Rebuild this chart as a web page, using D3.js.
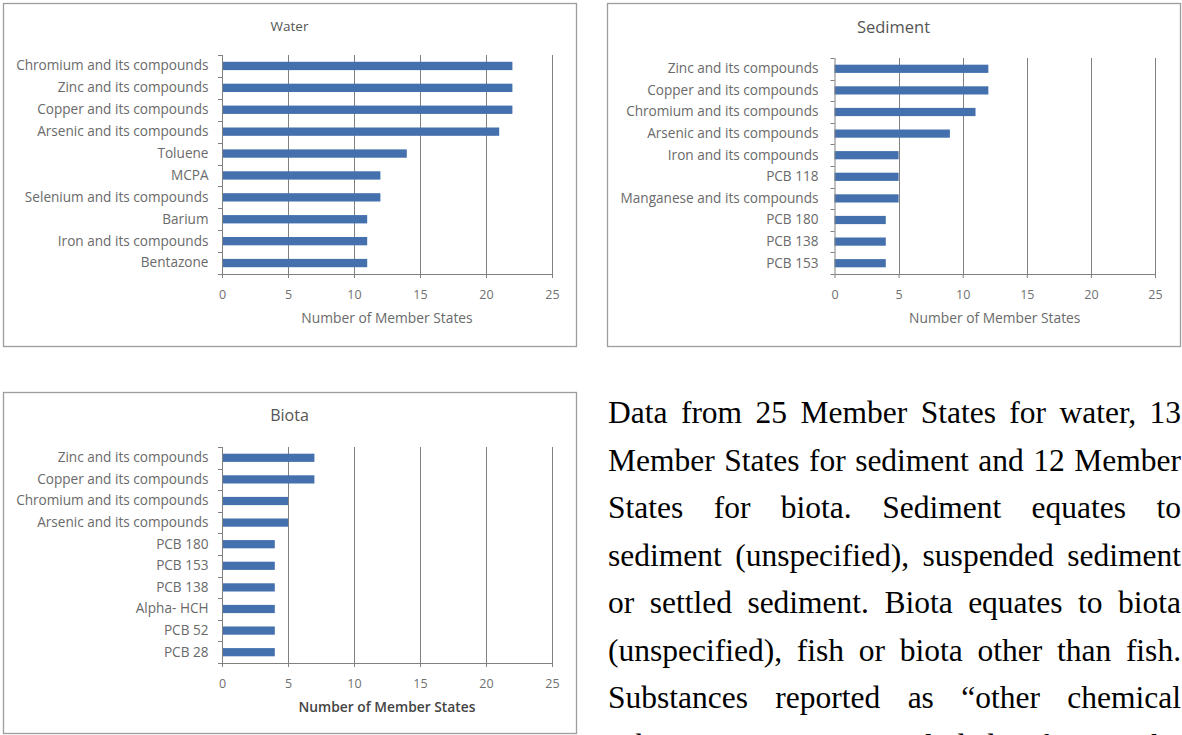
<!DOCTYPE html>
<html>
<head>
<meta charset="utf-8">
<script src="https://cdn.jsdelivr.net/npm/d3@7"></script>
<style>
  body { margin: 0; background: #ffffff; }
  svg { display: block; }
</style>
</head>
<body>
<svg id="fig" width="1182" height="735"></svg>
<script>
// Number of Member States reporting each substance, per matrix
const xTicks = [0, 5, 10, 15, 20, 25];

const waterCategories = [
  "Chromium and its compounds", "Zinc and its compounds", "Copper and its compounds",
  "Arsenic and its compounds", "Toluene", "MCPA", "Selenium and its compounds",
  "Barium", "Iron and its compounds", "Bentazone"
];
const waterValues = [22, 22, 22, 21, 14, 12, 12, 11, 11, 11];

const sedimentCategories = [
  "Zinc and its compounds", "Copper and its compounds", "Chromium and its compounds",
  "Arsenic and its compounds", "Iron and its compounds", "PCB 118",
  "Manganese and its compounds", "PCB 180", "PCB 138", "PCB 153"
];
const sedimentValues = [12, 12, 11, 9, 5, 5, 5, 4, 4, 4];

const biotaCategories = [
  "Zinc and its compounds", "Copper and its compounds", "Chromium and its compounds",
  "Arsenic and its compounds", "PCB 180", "PCB 153", "PCB 138", "Alpha- HCH",
  "PCB 52", "PCB 28"
];
const biotaValues = [7, 7, 5, 5, 4, 4, 4, 4, 4, 4];

const axisTitle = "Number of Member States";

const noteLines = [
  "Data from 25 Member States for water, 13",
  "Member States for sediment and 12 Member",
  "States for biota. Sediment equates to",
  "sediment (unspecified), suspended sediment",
  "or settled sediment. Biota equates to biota",
  "(unspecified), fish or biota other than fish.",
  "Substances reported as \u201Cother chemical",
  "substances\u201D are excluded from the"
];

const svg = d3.select("#fig");
const LABEL_FONT = "'Open Sans', 'DejaVu Sans', sans-serif";
const GRID = "#808080";
const BAR = "#4471ad";

function drawPanel(o) {
  const g = svg.append("g");

  // frame
  g.append("rect")
    .attr("x", o.box[0] + 0.5).attr("y", o.box[1] + 0.5)
    .attr("width", o.box[2] - o.box[0]).attr("height", o.box[3] - o.box[1])
    .attr("fill", "#fff").attr("stroke", "#9d9d9d").attr("stroke-width", 1.3);

  const x = d3.scaleLinear().domain([0, 25]).range([o.x0, o.x1]);
  const y = d3.scaleBand().domain(o.categories)
    .range([o.top, o.bottom]).paddingInner(0.62).paddingOuter(0.31);

  // title
  g.append("text")
    .attr("x", (o.box[0] + o.box[2]) / 2).attr("y", o.titleY)
    .attr("text-anchor", "middle")
    .attr("font-family", LABEL_FONT).attr("font-size", o.titleSize)
    .attr("fill", "#555").text(o.title);

  // vertical gridlines
  g.selectAll("line.grid").data(xTicks.slice(1)).join("line")
    .attr("class", "grid")
    .attr("x1", d => Math.round(x(d)) + 0.5).attr("x2", d => Math.round(x(d)) + 0.5)
    .attr("y1", o.top).attr("y2", o.bottom)
    .attr("stroke", GRID).attr("stroke-width", 1);

  // bars
  g.selectAll("rect.bar").data(o.values).join("rect")
    .attr("class", "bar")
    .attr("x", x(0))
    .attr("y", (d, i) => y(o.categories[i]))
    .attr("width", d => x(d) - x(0))
    .attr("height", y.bandwidth())
    .attr("fill", BAR);

  // bottom axis
  const xa = g.append("g")
    .attr("transform", `translate(0,${o.bottom})`)
    .call(d3.axisBottom(x).tickValues(xTicks).tickSize(4).tickSizeOuter(0).tickPadding(12));
  xa.select(".domain").attr("stroke", GRID);
  xa.selectAll(".tick line").attr("stroke", GRID);
  xa.selectAll(".tick text")
    .attr("font-family", LABEL_FONT).attr("font-size", 12.5).attr("fill", "#707070");

  // category axis: line, boundary ticks and labels
  const ya = g.append("g")
    .attr("transform", `translate(${o.x0},0)`)
    .call(d3.axisLeft(y).tickSize(0).tickPadding(o.labelGap));
  ya.select(".domain").remove();
  ya.selectAll(".tick text")
    .attr("font-family", LABEL_FONT).attr("font-size", 13.6).attr("fill", "#6a6a6a");

  g.append("line")
    .attr("x1", o.x0 + 0.5).attr("x2", o.x0 + 0.5)
    .attr("y1", o.top).attr("y2", o.bottom)
    .attr("stroke", GRID);
  const bounds = d3.range(o.categories.length + 1).map(i => o.top + i * y.step());
  g.selectAll("line.ytick").data(bounds).join("line")
    .attr("class", "ytick")
    .attr("x1", o.x0 - 4).attr("x2", o.x0)
    .attr("y1", d => Math.round(d) + 0.5).attr("y2", d => Math.round(d) + 0.5)
    .attr("stroke", GRID);

  // axis title
  g.append("text")
    .attr("x", (o.x0 + o.x1) / 2).attr("y", o.axisTitleY)
    .attr("text-anchor", "middle")
    .attr("font-family", LABEL_FONT).attr("font-size", 13.8)
    .attr("font-weight", o.axisTitleWeight || 400)
    .attr("fill", o.axisTitleColor || "#6a6a6a")
    .text(axisTitle);
}

drawPanel({
  box: [3, 3, 576, 346], title: "Water", titleSize: 13.5, titleY: 31,
  categories: waterCategories, values: waterValues,
  x0: 222, x1: 552, top: 55, bottom: 274, labelGap: 13.5, axisTitleY: 323
});

drawPanel({
  box: [607, 3, 1180, 346], title: "Sediment", titleSize: 16.5, titleY: 33,
  categories: sedimentCategories, values: sedimentValues,
  x0: 834.5, x1: 1155, top: 58, bottom: 274, labelGap: 16, axisTitleY: 323
});

drawPanel({
  box: [3, 392, 576, 733], title: "Biota", titleSize: 16, titleY: 421,
  categories: biotaCategories, values: biotaValues,
  x0: 222, x1: 552, top: 447, bottom: 663, labelGap: 13.5, axisTitleY: 712,
  axisTitleWeight: 600, axisTitleColor: "#444"
});

// justified note text beside the biota chart
const note = svg.append("g")
  .attr("font-family", "'Liberation Serif', 'Times New Roman', serif")
  .attr("font-size", 31.5).attr("fill", "#000");
const noteLeft = 608, noteRight = 1181, firstBaseline = 423, lineStep = 47.5;

noteLines.forEach((line, li) => {
  const words = line.split(" ");
  const yPos = firstBaseline + li * lineStep;
  const nodes = words.map(w => note.append("text").attr("y", yPos).text(w));
  const widths = nodes.map(n => n.node().getComputedTextLength());
  const total = d3.sum(widths);
  const gap = words.length > 1 ? (noteRight - noteLeft - total) / (words.length - 1) : 0;
  let cx = noteLeft;
  nodes.forEach((n, i) => { n.attr("x", cx); cx += widths[i] + gap; });
});
</script>
</body>
</html>
